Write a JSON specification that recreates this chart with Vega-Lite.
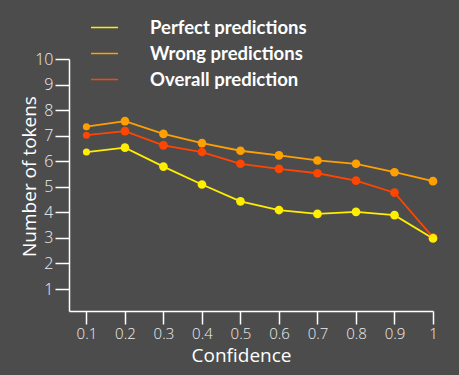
{
  "$schema": "https://vega.github.io/schema/vega-lite/v6.json",
  "width": 364,
  "height": 252,
  "autosize": {"type": "none"},
  "padding": {"left": 69, "top": 59, "right": 26, "bottom": 64},
  "background": "#4c4c4c",
  "config": {
    "view": {"stroke": null},
    "font": "Open Sans"
  },
  "data": {
    "values": [
      {"conf": 0.1, "series": "Perfect predictions", "tokens": 6.36},
      {"conf": 0.2, "series": "Perfect predictions", "tokens": 6.53},
      {"conf": 0.3, "series": "Perfect predictions", "tokens": 5.79},
      {"conf": 0.4, "series": "Perfect predictions", "tokens": 5.09},
      {"conf": 0.5, "series": "Perfect predictions", "tokens": 4.43},
      {"conf": 0.6, "series": "Perfect predictions", "tokens": 4.09},
      {"conf": 0.7, "series": "Perfect predictions", "tokens": 3.94},
      {"conf": 0.8, "series": "Perfect predictions", "tokens": 4.02},
      {"conf": 0.9, "series": "Perfect predictions", "tokens": 3.89},
      {"conf": 1.0, "series": "Perfect predictions", "tokens": 2.98},
      {"conf": 0.1, "series": "Wrong predictions", "tokens": 7.35},
      {"conf": 0.2, "series": "Wrong predictions", "tokens": 7.57},
      {"conf": 0.3, "series": "Wrong predictions", "tokens": 7.07},
      {"conf": 0.4, "series": "Wrong predictions", "tokens": 6.71},
      {"conf": 0.5, "series": "Wrong predictions", "tokens": 6.41},
      {"conf": 0.6, "series": "Wrong predictions", "tokens": 6.23},
      {"conf": 0.7, "series": "Wrong predictions", "tokens": 6.03},
      {"conf": 0.8, "series": "Wrong predictions", "tokens": 5.9},
      {"conf": 0.9, "series": "Wrong predictions", "tokens": 5.57},
      {"conf": 1.0, "series": "Wrong predictions", "tokens": 5.22},
      {"conf": 0.1, "series": "Overall prediction", "tokens": 7.02},
      {"conf": 0.2, "series": "Overall prediction", "tokens": 7.18},
      {"conf": 0.3, "series": "Overall prediction", "tokens": 6.62},
      {"conf": 0.4, "series": "Overall prediction", "tokens": 6.36},
      {"conf": 0.5, "series": "Overall prediction", "tokens": 5.9},
      {"conf": 0.6, "series": "Overall prediction", "tokens": 5.7},
      {"conf": 0.7, "series": "Overall prediction", "tokens": 5.53},
      {"conf": 0.8, "series": "Overall prediction", "tokens": 5.24},
      {"conf": 0.9, "series": "Overall prediction", "tokens": 4.77},
      {"conf": 1.0, "series": "Overall prediction", "tokens": 3.02}
    ]
  },
  "transform": [
    {"calculate": "indexof(['Wrong predictions','Overall prediction','Perfect predictions'], datum.series)", "as": "layerOrder"}
  ],
  "encoding": {
    "x": {
      "field": "conf",
      "type": "quantitative",
      "scale": {"domain": [0.0547, 1], "nice": false, "zero": false},
      "axis": {
        "title": "Confidence",
        "values": [0.1, 0.2, 0.3, 0.4, 0.5, 0.6, 0.7, 0.8, 0.9, 1],
        "format": "~g",
        "grid": false,
        "domainColor": "#ffffff",
        "domainWidth": 1.5,
        "tickColor": "#ffffff",
        "tickWidth": 1.5,
        "tickSize": 13,
        "labelColor": "#eeeeee",
        "labelFontSize": 15,
        "labelFontWeight": 300,
        "labelPadding": 2,
        "labelFlush": false,
        "titleColor": "#ffffff",
        "titleFontSize": 19,
        "titleFontWeight": "normal",
        "titleX": 172,
        "titleY": 50,
        "titleBaseline": "alphabetic"
      }
    },
    "y": {
      "field": "tokens",
      "type": "quantitative",
      "scale": {"domain": [0.14, 10], "nice": false, "zero": false},
      "axis": {
        "title": "Number of tokens",
        "values": [1, 2, 3, 4, 5, 6, 7, 8, 9, 10],
        "grid": false,
        "domainColor": "#ffffff",
        "domainWidth": 1.5,
        "tickColor": "#ffffff",
        "tickWidth": 1.5,
        "tickSize": 14,
        "labelColor": "#eeeeee",
        "labelFontSize": 16,
        "labelFontWeight": 300,
        "labelPadding": 2,
        "labelFlush": false,
        "titleColor": "#ffffff",
        "titleFontSize": 19,
        "titleFontWeight": "normal",
        "titleX": -34,
        "titleY": 117,
        "titleBaseline": "alphabetic"
      }
    },
    "color": {
      "field": "series",
      "type": "nominal",
      "scale": {
        "domain": ["Perfect predictions", "Wrong predictions", "Overall prediction"],
        "range": ["#ffee00", "#ffa000", "#ff4500"]
      },
      "legend": {
        "title": null,
        "orient": "none",
        "legendX": 21,
        "legendY": -46,
        "padding": 0,
        "symbolType": "stroke",
        "symbolSize": 729,
        "symbolStrokeWidth": 1.5,
        "labelColor": "#ffffff",
        "labelFont": "Lato",
        "labelFontSize": 18.5,
        "labelFontWeight": "bold",
        "labelOffset": 31,
        "rowPadding": 2,
        "labelLimit": 300
      }
    }
  },
  "layer": [
    {
      "mark": {"type": "line", "strokeWidth": 1.8},
      "encoding": {"detail": {"field": "series"}}
    },
    {
      "mark": {"type": "circle", "opacity": 1},
      "encoding": {
        "order": {"field": "layerOrder", "type": "quantitative"},
        "size": {"condition": {"test": "datum.conf < 0.15", "value": 50}, "value": 75}
      }
    }
  ]
}
